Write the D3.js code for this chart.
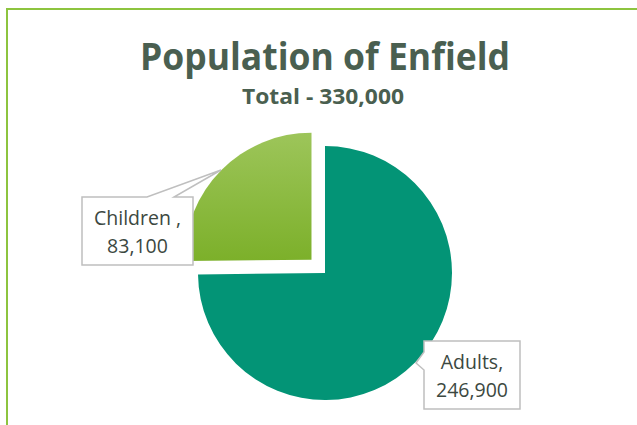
<!DOCTYPE html>
<html>
<head>
<meta charset="utf-8">
<script src="https://cdn.jsdelivr.net/npm/d3@7"></script>
<style>
	body { margin: 0; background: #fff; }
	svg { display: block; font-family: "Open Sans", sans-serif; }
</style>
</head>
<body>
<div id="chart"></div>
<script>
// chart data
const categories = ["Adults", "Children"];
const values = [246900, 83100];
const labelNames = ["Adults,", "Children ,"];
const titleText = "Population of Enfield";
const subtitleText = "Total - 330,000";

const width = 637, height = 425;
const CENTER = { x: 325, y: 273 };
const R = 127;
const EXPLODE = 19;

const svg = d3.select("#chart").append("svg")
	.attr("width", width)
	.attr("height", height);

const defs = svg.append("defs");
const grad = defs.append("linearGradient")
	.attr("id", "childGrad")
	.attr("x1", 0).attr("y1", 0).attr("x2", 0).attr("y2", 1);
grad.append("stop").attr("offset", "0%").attr("stop-color", "#9dc55a");
grad.append("stop").attr("offset", "100%").attr("stop-color", "#7cb02a");

// outer frame, runs off the right and bottom
svg.append("rect")
	.attr("x", 7).attr("y", 9)
	.attr("width", 700).attr("height", 500)
	.attr("fill", "none")
	.attr("stroke", "#8dc43f")
	.attr("stroke-width", 2);

// titles
svg.append("text")
	.attr("x", 325).attr("y", 70)
	.attr("text-anchor", "middle")
	.attr("font-size", 37)
	.attr("font-weight", "bold")
	.attr("fill", "#4a5f50")
	.attr("textLength", 370)
	.attr("lengthAdjust", "spacingAndGlyphs")
	.text(titleText);

svg.append("text")
	.attr("x", 323).attr("y", 104)
	.attr("text-anchor", "middle")
	.attr("font-size", 21)
	.attr("font-weight", "bold")
	.attr("fill", "#4a5f50")
	.attr("textLength", 162)
	.attr("lengthAdjust", "spacingAndGlyphs")
	.text(subtitleText);

// pie
const data = categories.map((c, i) => ({ name: c, value: values[i], label: labelNames[i] }));
const pie = d3.pie().sort(null).value(d => d.value);
const arcs = pie(data);
const arc = d3.arc().innerRadius(0).outerRadius(R);

const g = svg.append("g").attr("transform", `translate(${CENTER.x},${CENTER.y})`);

function offset(d) {
	if (d.data.name !== "Children") return [0, 0];
	const a = (d.startAngle + d.endAngle) / 2;
	return [Math.sin(a) * EXPLODE, -Math.cos(a) * EXPLODE];
}

g.selectAll("path")
	.data(arcs)
	.enter().append("path")
	.attr("transform", d => `translate(${offset(d)})`)
	.attr("d", arc)
	.attr("fill", d => d.data.name === "Children" ? "url(#childGrad)" : "#039476");

// callout labels
const textColor = "#3c4841";
const boxStroke = "#bfbfbf";

function callout(lines, box, pointer, base) {
	const lg = svg.append("g");
	// callout shape: box + pointer triangle
	lg.append("path")
		.attr("d", calloutPath(box, pointer, base))
		.attr("fill", "#fff")
		.attr("stroke", boxStroke)
		.attr("stroke-width", 1.5);
	lines.forEach((t, i) => {
		lg.append("text")
			.attr("x", box.x + box.w / 2)
			.attr("y", box.y + 28 + i * 28)
			.attr("text-anchor", "middle")
			.attr("font-size", 19.5)
			.attr("fill", textColor)
			.text(t);
	});
}

function calloutPath(b, p, base) {
	const x0 = b.x, y0 = b.y, x1 = b.x + b.w, y1 = b.y + b.h;
	if (base.side === "top") {
		return `M${x0},${y0}L${base.a},${y0}L${p[0]},${p[1]}L${base.b},${y0}L${x1},${y0}L${x1},${y1}L${x0},${y1}Z`;
	}
	// left side
	return `M${x0},${y0}L${x1},${y0}L${x1},${y1}L${x0},${y1}L${x0},${base.b}L${p[0]},${p[1]}L${x0},${base.a}Z`;
}

const childArc = arcs[1], adultArc = arcs[0];
callout([childArc.data.label, d3.format(",")(childArc.data.value)],
	{ x: 82, y: 197, w: 111, h: 68 }, [221, 170], { side: "top", a: 147, b: 174 });
callout([adultArc.data.label, d3.format(",")(adultArc.data.value)],
	{ x: 424, y: 341, w: 96, h: 68 }, [416, 363], { side: "left", a: 352, b: 370 });
</script>
</body>
</html>
